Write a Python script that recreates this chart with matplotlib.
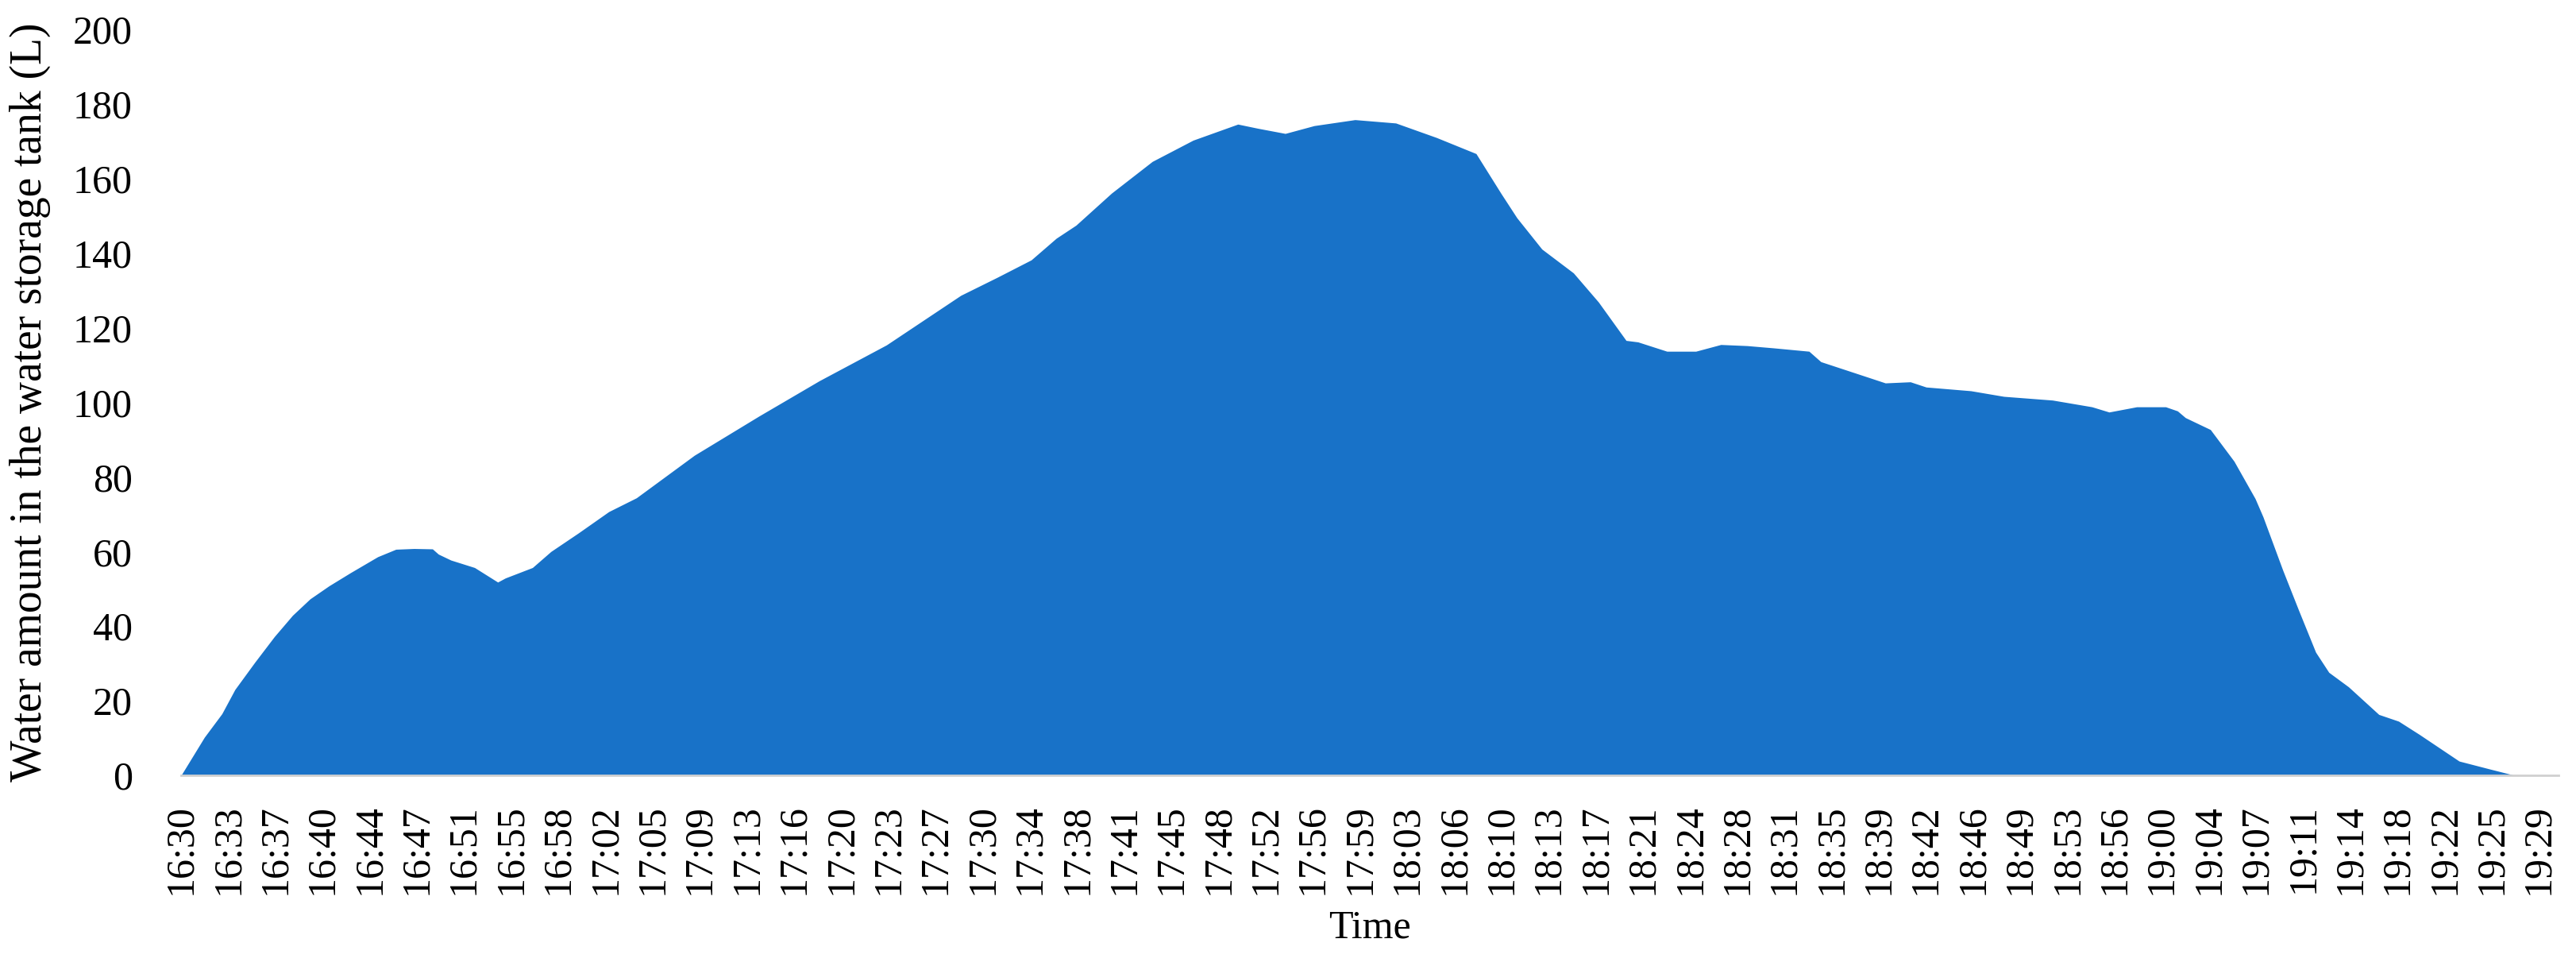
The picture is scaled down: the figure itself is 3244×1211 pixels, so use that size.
"""Area chart of the water amount in the storage tank over one evening."""

import matplotlib

matplotlib.use("Agg")

import matplotlib.pyplot as plt
import numpy as np

# elapsed minutes after 16:30 and tank volume (L)
elapsed_min = [
    0, 1.77, 3.1, 4.09, 5.6, 7.09, 8.47, 9.8, 11.24, 12.86,
    14.94, 16.32, 17.7, 19.1, 19.55, 20.5, 22.3, 24.06, 24.64, 26.7,
    28.1, 30.2, 32.5, 34.6, 39.0, 43.9, 48.5, 53.6, 59.25, 62.0,
    64.6, 66.5, 68.0, 70.7, 73.8, 76.9, 80.3, 81.8, 83.9, 86.1,
    89.2, 92.3, 95.4, 98.4, 100.3, 101.5, 103.4, 105.8, 107.7, 109.8,
    110.7, 112.9, 115.1, 117.0, 119.0, 121.0, 123.7, 124.6, 128.3, 129.5,
    131.4, 132.6, 136.0, 138.5, 142.2, 145.2, 146.5, 148.6, 150.8, 151.7,
    152.3, 154.2, 156.0, 157.6, 158.2, 159.7, 160.9, 162.2, 163.2, 164.7,
    167.0, 168.5, 170.1, 173.1, 175.4, 177.3,
]
water_l = [
    0, 10.2, 16.5, 23.0, 30.3, 37.2, 42.9, 47.3, 50.8, 54.3,
    58.6, 60.6, 60.8, 60.7, 59.3, 57.7, 55.7, 51.8, 52.9, 55.7,
    60.0, 65.0, 70.7, 74.4, 85.8, 96.3, 105.8, 115.4, 128.7, 133.5,
    138.2, 144.0, 147.5, 156.1, 164.6, 170.3, 174.6, 173.5, 172.1, 174.2,
    175.8, 174.9, 171.0, 166.7, 156.0, 149.5, 141.1, 134.7, 126.9, 116.6,
    116.2, 113.7, 113.7, 115.5, 115.2, 114.6, 113.7, 110.9, 106.6, 105.2,
    105.5, 104.1, 103.1, 101.6, 100.6, 98.8, 97.4, 98.8, 98.8, 97.7,
    95.9, 92.7, 84.2, 74.2, 69.3, 55.0, 44.3, 33.0, 27.6, 23.7,
    16.3, 14.5, 10.9, 3.8, 1.7, 0.0,
]
time_labels = [
    "16:30", "16:33", "16:37", "16:40", "16:44", "16:47", "16:51", "16:55",
    "16:58", "17:02", "17:05", "17:09", "17:13", "17:16", "17:20", "17:23",
    "17:27", "17:30", "17:34", "17:38", "17:41", "17:45", "17:48", "17:52",
    "17:56", "17:59", "18:03", "18:06", "18:10", "18:13", "18:17", "18:21",
    "18:24", "18:28", "18:31", "18:35", "18:39", "18:42", "18:46", "18:49",
    "18:53", "18:56", "19:00", "19:04", "19:07", "19:11", "19:14", "19:18",
    "19:22", "19:25", "19:29",
]
y_ticks = [0, 20, 40, 60, 80, 100, 120, 140, 160, 180, 200]

TICK_STEP = 215 / 60  # one label every 43 samples of 5 s
X_END = 180.65
FILL = "#1872c8"

plt.rcParams["font.family"] = ["Liberation Serif", "DejaVu Serif"]


def plot_tank(path: str = "out.png") -> None:
    """Draw the filled area chart and save it."""
    fig = plt.figure(figsize=(32.44, 12.11), dpi=100)
    ax = fig.add_axes([0.0703, 0.1941, 0.9229, 0.7753])

    ax.fill_between(elapsed_min, water_l, 0, color=FILL, linewidth=0)

    ax.set_xlim(0, X_END)
    ax.set_ylim(0, 200)
    ax.set_yticks(y_ticks)
    ax.set_xticks(np.arange(len(time_labels)) * TICK_STEP)
    ax.set_xticklabels(time_labels, rotation=90)
    ax.tick_params(axis="both", length=0, labelsize=36)
    ax.tick_params(axis="x", pad=26)
    ax.tick_params(axis="y", pad=44)

    for side in ("top", "right", "left"):
        ax.spines[side].set_visible(False)
    ax.spines["bottom"].set_color("#d0d0d0")
    ax.spines["bottom"].set_linewidth(2)

    ax.set_ylabel("Water amount in the water storage tank (L)", fontsize=40, labelpad=20)
    ax.set_xlabel("Time", fontsize=36, labelpad=14)

    fig.savefig(path, dpi=100, facecolor="white")
    plt.close(fig)


if __name__ == "__main__":
    plot_tank()
